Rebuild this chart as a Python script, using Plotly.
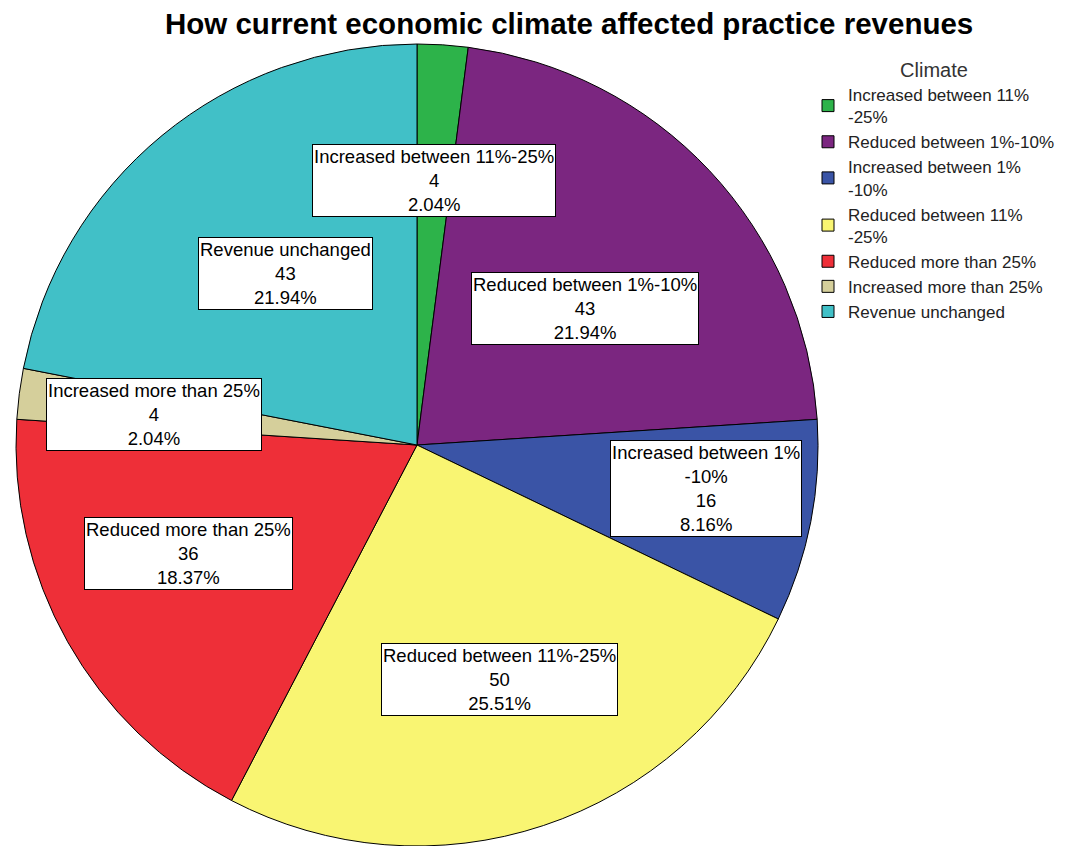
import math
import plotly.graph_objects as go

# ---- data ----
categories = [
    "Increased between 11%-25%",
    "Reduced between 1%-10%",
    "Increased between 1%-10%",
    "Reduced between 11%-25%",
    "Reduced more than 25%",
    "Increased more than 25%",
    "Revenue unchanged",
]
legend_labels = [
    "Increased between 11%<br>-25%",
    "Reduced between 1%-10%",
    "Increased between 1%<br>-10%",
    "Reduced between 11%<br>-25%",
    "Reduced more than 25%",
    "Increased more than 25%",
    "Revenue unchanged",
]
box_labels = [
    "Increased between 11%-25%",
    "Reduced between 1%-10%",
    "Increased between 1%<br>-10%",
    "Reduced between 11%-25%",
    "Reduced more than 25%",
    "Increased more than 25%",
    "Revenue unchanged",
]
counts = [4, 43, 16, 50, 36, 4, 43]

# ---- style ----
colors = ["#2db34a", "#7b2680", "#3a54a6", "#f9f572", "#ee2f38", "#d5cf9b", "#41c0c7"]
label_radius = [0.66, 0.54, 0.73, 0.62, 0.63, 0.66, 0.54]
label_angle_shift = [0, 4, -2.5, -1, 4, -0.7, 2]   # degrees
# page has an 8px body margin; work in figure pixels
W, H = 1073, 838
FONT = "Liberation Sans, Arial, sans-serif"

# pie placement in figure pixels
cx, cy, R = 409, 437, 401
dom_x = [(cx - R) / W, (cx + R) / W]
dom_y = [1 - (cy + R) / H, 1 - (cy - R) / H]

fig = go.Figure()
fig.add_trace(go.Pie(
    labels=legend_labels,
    values=counts,
    sort=False,
    direction="clockwise",
    rotation=0,
    textinfo="none",
    hoverinfo="label+value+percent",
    marker=dict(colors=colors, line=dict(color="black", width=1)),
    domain=dict(x=dom_x, y=dom_y),
))

total = sum(counts)
cum = 0
for i, v in enumerate(counts):
    mid = (cum + v / 2) / total * 2 * math.pi + math.radians(label_angle_shift[i])
    cum += v
    r = R * label_radius[i]
    x = cx + r * math.sin(mid)
    y = cy - r * math.cos(mid)
    pct = v / total * 100
    fig.add_annotation(
        x=x / W, y=1 - y / H, xref="paper", yref="paper",
        xanchor="center", yanchor="middle",
        text=f"{box_labels[i]}<br>{v}<br>{pct:.2f}%",
        showarrow=False,
        font=dict(family=FONT, size=18.5, color="black"),
        bgcolor="white", bordercolor="black", borderwidth=1, borderpad=1,
        align="center",
    )

# title as a paper annotation (keeps it fully inside the page)
fig.add_annotation(
    text="<b>How current economic climate affected practice revenues</b>",
    x=561 / W, y=1 + 3 / H, xref="paper", yref="paper",
    xanchor="center", yanchor="top", showarrow=False,
    font=dict(family=FONT, size=29.5, color="black"),
)

fig.update_layout(
    width=W, height=H,
    margin=dict(l=0, r=0, t=0, b=0, autoexpand=False),
    paper_bgcolor="white",
    plot_bgcolor="white",
    legend=dict(
        x=800 / W, xanchor="left", y=1 - 43 / H, yanchor="top",
        title=dict(text="Climate", side="top center",
                   font=dict(family=FONT, size=20, color="#333")),
        font=dict(family=FONT, size=17, color="#222"),
        bgcolor="rgba(0,0,0,0)",
        tracegroupgap=0,
    ),
    showlegend=True,
)

fig.write_html("out.html")
